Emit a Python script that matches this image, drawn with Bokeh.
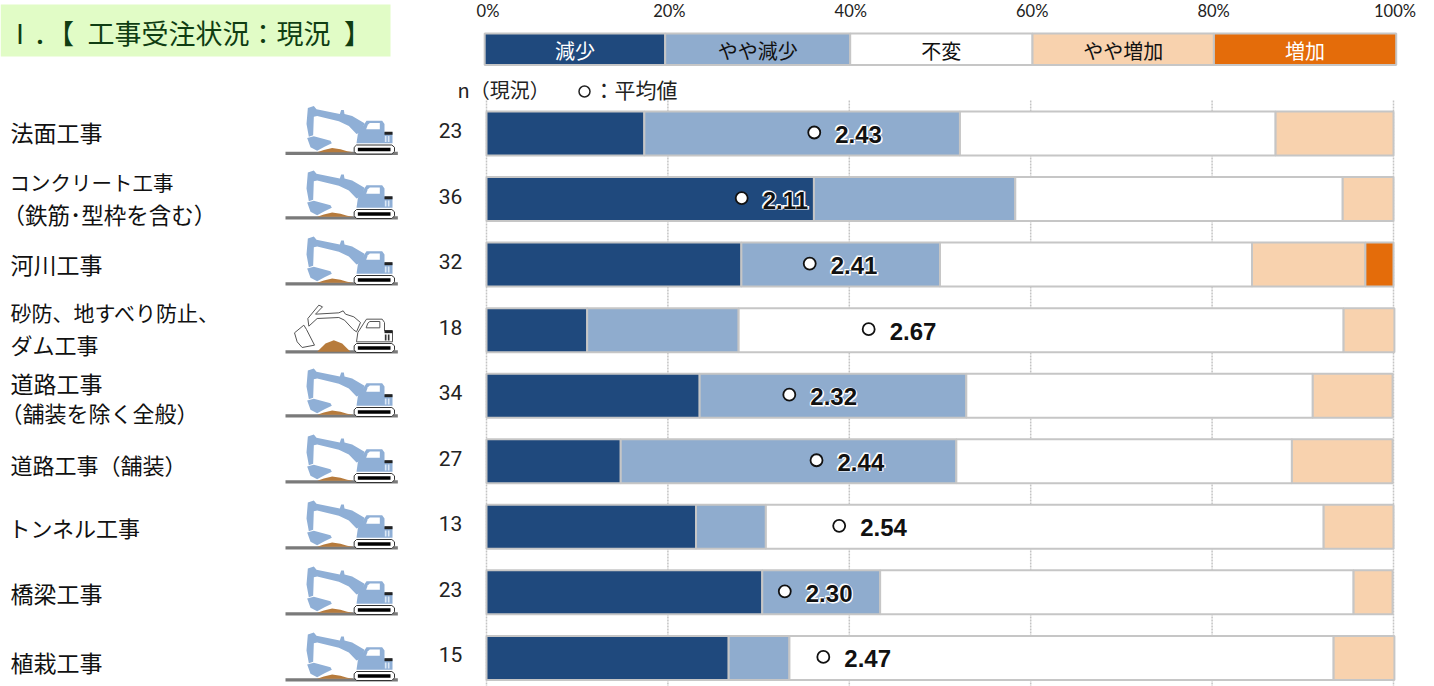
from bokeh.plotting import figure
from bokeh.models import Range1d, LinearAxis, FixedTicker, ColumnDataSource
from bokeh.core.properties import value, field
from bokeh.embed import file_html
from bokeh.resources import INLINE

# ---------- data ----------
title = "Ⅰ．【\u2002工事受注状況：現況\u2002】"
categories = ["法面工事", "コンクリート工事", "河川工事", "砂防、地すべり防止、", "道路工事",
              "道路工事(舗装)", "トンネル工事", "橋梁工事", "植栽工事"]
n_values = [23, 36, 32, 18, 34, 27, 13, 23, 15]
means = [2.43, 2.11, 2.41, 2.67, 2.32, 2.44, 2.54, 2.30, 2.47]
mean_labels = ["2.43", "2.11", "2.41", "2.67", "2.32", "2.44", "2.54", "2.30", "2.47"]
series_names = ["減少", "やや減少", "不変", "やや増加", "増加"]
decrease = [17.4, 36.1, 28.1, 11.1, 23.5, 14.8, 23.1, 30.4, 26.7]
slight_decrease = [34.8, 22.2, 21.9, 16.7, 29.4, 37.0, 7.7, 13.0, 6.7]
unchanged = [34.8, 36.1, 34.4, 66.7, 38.2, 37.0, 61.5, 52.2, 60.0]
slight_increase = [13.0, 5.6, 12.5, 5.6, 8.8, 11.1, 7.7, 4.3, 6.7]
increase = [0, 0, 3.1, 0, 0, 0, 0, 0, 0]
tick_values = [0, 20, 40, 60, 80, 100]

colors = ["#1F497D", "#8FACCE", "#FFFFFF", "#F8D2AE", "#E46C0A"]
legend_text_colors = ["#FFFFFF", "#111111", "#111111", "#111111", "#FFFFFF"]
edge = "#C6C6C6"

# ---------- page-pixel helpers ----------
W, H = 1434, 686
X0, SX = 486.0, 9.07     # page x of 0 %, pixels per percent
Y0, SY = 133.0, 65.55    # page y of the first row, pixels per row
def xp(px): return (px - X0) / SX
def yp(py): return (py - Y0) / SY

p = figure(width=W, height=H, output_backend="svg", toolbar_location=None,
           x_range=Range1d(xp(0), xp(W)), y_range=Range1d(yp(H), yp(0)),
           min_border=0, min_border_left=0, min_border_right=0, min_border_top=0, min_border_bottom=0,
           outline_line_color=None, x_axis_type=None, y_axis_type=None)
p.background_fill_color = "#FFFFFF"
p.border_fill_color = "#FFFFFF"

# top percent axis
p.extra_x_ranges["pct"] = Range1d(xp(-1.5), xp(W - 1.5))
ax = LinearAxis(x_range_name="pct", ticker=FixedTicker(ticks=tick_values), fixed_location=yp(26))
ax.major_label_overrides = {t: f"{t}%" for t in tick_values}
ax.axis_line_color = None
ax.major_tick_line_color = None
ax.minor_tick_line_color = None
ax.major_label_standoff = 0
ax.major_label_text_font = "Lato"
ax.major_label_text_font_size = "16.5px"
ax.major_label_text_color = "#222222"
p.add_layout(ax, "above")

# dotted grid in the gaps
p.segment(x0=tick_values, x1=tick_values, y0=[yp(100)] * 6, y1=[yp(686)] * 6,
          line_color="#C4C4C4", line_dash="2 1", line_width=1.5)

# title box
p.quad(left=[xp(0)], right=[xp(390)], top=[yp(4)], bottom=[yp(56)], fill_color="#E1FCC6", line_color=None)
p.text(x=[xp(6)], y=[yp(32)], text=[title], text_font=value("Noto Sans CJK JP"), text_font_size="27px",
       text_color="#0F3D12", text_baseline="middle", text_align="left")

# legend strip
leg_edges = [-0.2, 19.7, 40.1, 60.2, 80.2, 100.3]
for i, nm in enumerate(series_names):
    p.quad(left=[leg_edges[i]], right=[leg_edges[i + 1]], top=[yp(33)], bottom=[yp(64.5)],
           fill_color=colors[i], line_color=edge, line_width=2)
    p.text(x=[(leg_edges[i] + leg_edges[i + 1]) / 2], y=[yp(49.5)], text=[nm], text_align="center",
           text_baseline="middle", text_font=value("Noto Sans CJK JP"), text_font_size="20px",
           text_color=legend_text_colors[i])
p.text(x=[xp(457)], y=[yp(88.5)], text=["n（現況）"], text_font=value("Noto Sans CJK JP"), text_font_size="20px",
       text_baseline="middle", text_color="#222222")
p.scatter(x=[xp(584)], y=[yp(91)], size=11, marker="circle", fill_color="#FFFFFF", line_color="#222222", line_width=1.5)
p.text(x=[xp(593)], y=[yp(88.5)], text=["：平均値"], text_font=value("Noto Sans CJK JP"), text_font_size="21px",
       text_baseline="middle", text_color="#222222")

# stacked bars
rows = list(range(len(categories)))
series = [decrease, slight_decrease, unchanged, slight_increase, increase]
lefts = [0.0] * len(rows)
for s, col in zip(series, colors):
    ys, ls, rs = [], [], []
    for r in rows:
        if s[r] > 0:
            ys.append(r); ls.append(lefts[r]); rs.append(lefts[r] + s[r])
        lefts[r] += s[r]
    p.hbar(y=ys, left=ls, right=rs, height=44 / SY, fill_color=col, line_color=edge, line_width=2)

# mean markers + labels (white halo beneath labels lying on coloured bars)
mx = [(m - 1) * 25 + 3.5 / SX for m in means]
p.scatter(x=mx, y=[r - 1 / SY for r in rows], size=12, marker="circle", fill_color="#FFFFFF",
          line_color="#111111", line_width=1.8)
lx = [v + 21 / SX for v in mx]
ly = [r + 1 / SY for r in rows]
halo = [i for i in rows if i not in (3, 6, 8)]
for dx, dy in [(-0.9, -0.7), (0.9, 0.7)]:
    p.text(x=[lx[i] + dx / SX for i in halo], y=[ly[i] + dy / SY for i in halo], text=[mean_labels[i] for i in halo],
           text_align="left", text_baseline="middle", text_font=value("Liberation Sans"), text_font_style="bold",
           text_font_size="24px", text_color="#FFFFFF", text_outline_color="#FFFFFF")
p.text(x=lx, y=ly, text=mean_labels, text_align="left",
       text_baseline="middle", text_font=value("Liberation Sans"), text_font_style="bold", text_font_size="24px",
       text_color="#111111")

# n labels
p.text(x=[xp(450)] * 9, y=[r - 3 / SY for r in rows], text=[str(v) for v in n_values], text_align="center",
       text_baseline="middle", text_font=value("Roboto"), text_font_size="21px", text_color="#222222")

# row labels (with second lines)
lab_lines = ["法面工事", "コンクリート工事", "（鉄筋･型枠を含む）", "河川工事", "砂防、地すべり防止、", "ダム工事",
             "道路工事", "（舗装を除く全般）", "道路工事（舗装）", "トンネル工事", "橋梁工事", "植栽工事"]
lab_y = [131, 181, 213, 263, 311, 343, 382, 411, 463, 526, 592, 661]
lab_x = [10, 9, 2, 10, 10, 10, 10, 0, 10, 8, 10, 10]
lab_sz = ["23px", "20.5px", "22.5px", "23px", "21px", "22px", "23px", "22px", "22px", "22px", "23px", "23px"]
lab_src = ColumnDataSource(dict(x=[xp(v) for v in lab_x], y=[yp(v) for v in lab_y], t=lab_lines, s=lab_sz))
p.text(x="x", y="y", text="t", source=lab_src, text_font=value("Noto Sans CJK JP"),
       text_font_size=field("s"), text_baseline="middle", text_color="#111111")

# excavator icons: shapes in local pixels, origin at icon left / ground bottom
def Z(pts):
    return [(a / 3, (b - 160) / 3) for a, b in pts]
BLUE = "#8FAFD6"
arm_blue = Z([(82,22),(100,16),(108,26),(178,40),(182,28),(190,28),(192,40),(215,46),(252,68),(242,95),(228,100),(205,76),(175,62),(110,46),(100,48),(98,104),(85,108),(78,70)])
bucket_blue = Z([(80,112),(100,107),(150,120),(154,128),(132,138),(110,150),(90,140)])
arm_white = Z([(82,58),(115,18),(126,23),(105,45),(175,41),(188,35),(195,45),(220,53),(240,70),(228,98),(218,91),(192,63),(175,55),(110,58),(85,81)])
bucket_white = Z([(42,101),(70,78),(78,91),(102,138),(65,145),(50,128)])
cab = Z([(250,72),(258,60),(305,60),(312,70),(312,95),(336,95),(336,128),(228,128),(232,100)])
window = Z([(262,72),(268,67),(298,67),(298,86),(257,86)])
counter = Z([(312,93),(336,93),(336,102),(312,102)])
gr1 = Z([(313,106),(318,106),(318,124),(313,124)])
gr2 = Z([(322,106),(327,106),(327,124),(322,124)])
track = Z([(228,133),(334,133),(342,140),(342,152),(334,160),(228,160),(221,152),(221,140)])
tread = Z([(232,141),(330,141),(330,152),(232,152)])
ground = Z([(15,153),(352,153),(352,163),(15,163)])
dirt_small = Z([(110,155),(130,148),(155,142),(180,146),(200,152),(218,155)])
dirt_big = Z([(110,158),(135,133),(160,123),(185,133),(210,158)])
ground_y = [153.5, 218, 284, 352, 416, 482, 548, 614, 680]

layers = {"fill": [], "xs": [], "ys": [], "line": []}
def add(shape, gy, fill, line=None):
    layers["xs"].append([xp(280 + a) for a, _ in shape])
    layers["ys"].append([yp(gy + b) for _, b in shape])
    layers["fill"].append(fill); layers["line"].append(line)
for r, gy in enumerate(ground_y):
    white = r == 3
    add(ground, gy, "#7A7A7A")
    add(dirt_big if white else dirt_small, gy, "#B77B3C")
    if white:
        add(arm_white, gy, "#FFFFFF", "#555555"); add(bucket_white, gy, "#FFFFFF", "#555555")
    else:
        add(arm_blue, gy, BLUE); add(bucket_blue, gy, BLUE)
    add(cab, gy, "#FFFFFF" if white else BLUE, "#555555" if white else None)
    add(window, gy, "#FFFFFF", "#555555" if white else None)
    add(counter, gy, "#222222")
    add(gr1, gy, "#333333" if white else "#DCE8F6"); add(gr2, gy, "#333333" if white else "#DCE8F6")
    add(track, gy, "#FFFFFF", "#333333")
    add(tread, gy, "#000000")
src = ColumnDataSource(layers)
p.patches("xs", "ys", source=src, fill_color="fill", line_color="line", line_width=1)

open("out.html", "w").write(file_html(p, INLINE))
